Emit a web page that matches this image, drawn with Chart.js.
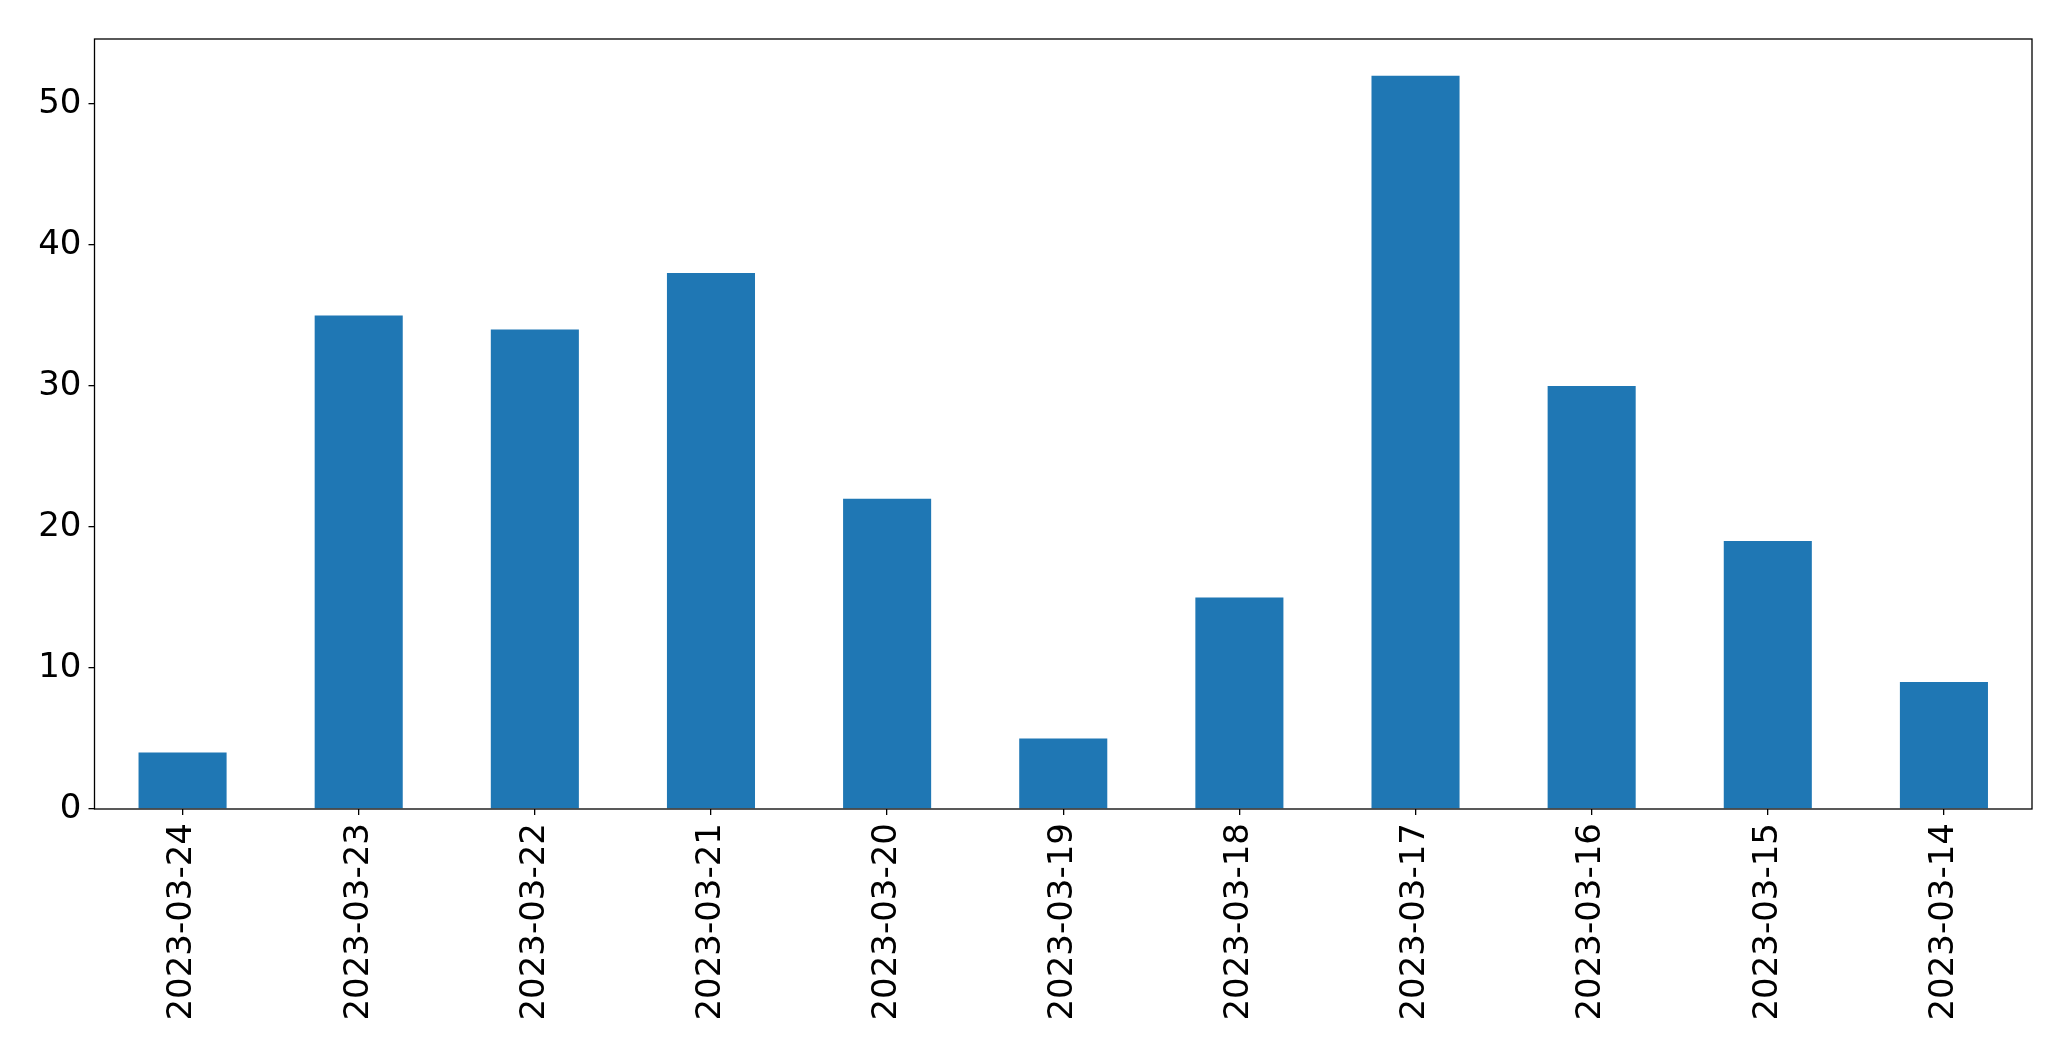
<!DOCTYPE html>
<html>
<head>
<meta charset="utf-8">
<script src="https://cdn.jsdelivr.net/npm/chart.js@4/dist/chart.umd.min.js"></script>
<style>
  html, body { margin: 0; padding: 0; background: #fff; }
</style>
</head>
<body>
<canvas id="chart" width="2071" height="1061"></canvas>
<script>
// data
const dates = ['2023-03-24', '2023-03-23', '2023-03-22', '2023-03-21', '2023-03-20', '2023-03-19',
               '2023-03-18', '2023-03-17', '2023-03-16', '2023-03-15', '2023-03-14'];
const counts = [4, 35, 34, 38, 22, 5, 15, 52, 30, 19, 9];
const yTicks = [0, 10, 20, 30, 40, 50];

// box around the plot area, like matplotlib's spines
const frame = {
  id: 'frame',
  afterDraw(chart) {
    const a = chart.chartArea;
    const ctx = chart.ctx;
    ctx.save();
    ctx.strokeStyle = '#000';
    ctx.lineWidth = 1.3;
    ctx.strokeRect(a.left, a.top, a.right - a.left, a.bottom - a.top);
    ctx.restore();
  }
};

const ctx = document.getElementById('chart');
new Chart(ctx, {
  type: 'bar',
  data: {
    labels: dates,
    datasets: [{
      data: counts,
      backgroundColor: '#1f77b4',
      borderWidth: 0,
      categoryPercentage: 1.0,
      barPercentage: 0.5
    }]
  },
  options: {
    responsive: false,
    animation: false,
    layout: { padding: { top: 39, right: 39, left: 0, bottom: 0 } },
    plugins: { legend: { display: false }, tooltip: { enabled: false } },
    scales: {
      x: {
        offset: true,
        grid: { display: true, offset: false, drawOnChartArea: false, tickLength: 6, color: '#000', lineWidth: 1.3 },
        border: { display: false },
        ticks: {
          color: '#000',
          font: { family: 'DejaVu Sans', size: 34 },
          minRotation: 90,
          maxRotation: 90,
          padding: 8,
          autoSkip: false
        },
        afterFit(scale) { scale.height = 252; }
      },
      y: {
        min: 0,
        max: 54.6,
        grid: { display: true, drawOnChartArea: false, tickLength: 6, color: '#000', lineWidth: 1.3 },
        border: { display: false },
        ticks: {
          color: '#000',
          font: { family: 'DejaVu Sans', size: 34 },
          stepSize: 10,
          padding: 7
        },
        afterBuildTicks(scale) {
          scale.ticks = yTicks.map(v => ({ value: v }));
        },
        afterFit(scale) { scale.width = 94.5; }
      }
    }
  },
  plugins: [frame]
});
</script>
</body>
</html>
